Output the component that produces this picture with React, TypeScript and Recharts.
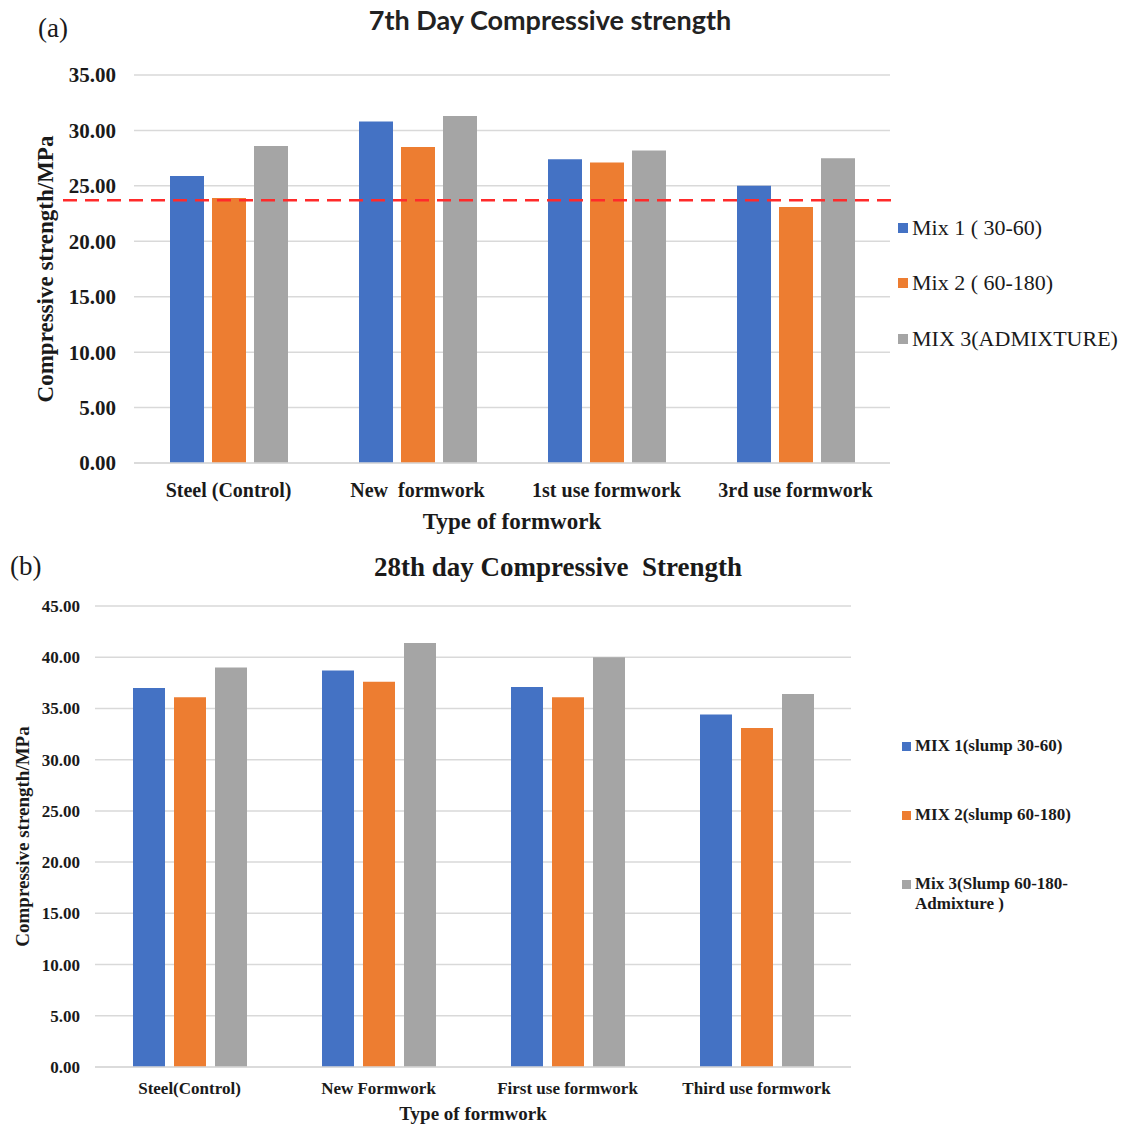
import {
  Bar,
  BarChart,
  CartesianGrid,
  Legend,
  ReferenceLine,
  XAxis,
  YAxis,
} from "recharts";

// (a) 7th day
const formworks7 = ["Steel (Control)", "New\u00a0 formwork", "1st use formwork", "3rd use formwork"];
const mix1Day7 = [25.9, 30.8, 27.4, 25.0];
const mix2Day7 = [23.9, 28.5, 27.1, 23.1];
const mix3Day7 = [28.6, 31.3, 28.2, 27.5];
const ticks7 = [0, 5, 10, 15, 20, 25, 30, 35];
const targetStrength = 23.7;
const names7 = ["Mix 1 ( 30-60)", "Mix 2 ( 60-180)", "MIX 3(ADMIXTURE)"];

// (b) 28th day
const formworks28 = ["Steel(Control)", "New Formwork", "First use formwork", "Third use formwork"];
const mix1Day28 = [37.0, 38.7, 37.1, 34.4];
const mix2Day28 = [36.1, 37.6, 36.1, 33.1];
const mix3Day28 = [39.0, 41.4, 40.0, 36.4];
const ticks28 = [0, 5, 10, 15, 20, 25, 30, 35, 40, 45];
const names28 = ["MIX 1(slump 30-60)", "MIX 2(slump 60-180)", "Mix 3(Slump 60-180-\nAdmixture )"];

const seriesKeys = ["mix1", "mix2", "mix3"];
const colors = ["#4472C4", "#ED7D31", "#A5A5A5"];
const serif = '"Liberation Serif", "Times New Roman", serif';
const ink = "#1a1a1a";

const data7 = formworks7.map((name, i) => ({
  name,
  mix1: mix1Day7[i],
  mix2: mix2Day7[i],
  mix3: mix3Day7[i],
}));

const data28 = formworks28.map((name, i) => ({
  name,
  mix1: mix1Day28[i],
  mix2: mix2Day28[i],
  mix3: mix3Day28[i],
}));

function makeLegend(opts: {
  itemHeight: number;
  lineHeight: number;
  fontSize: number;
  bold: boolean;
  box: number;
}) {
  return (props: any) => {
    // keep series order (legend sorts by name otherwise)
    const payload = [...(props.payload || [])].sort(
      (a: any, b: any) => seriesKeys.indexOf(a.dataKey) - seriesKeys.indexOf(b.dataKey)
    );
    return (
      <div style={{ fontFamily: serif, color: ink }}>
        {payload.map((entry: any) => (
          <div
            key={entry.value}
            style={{
              height: opts.itemHeight,
              display: "flex",
              alignItems: "flex-start",
              paddingTop: (opts.itemHeight - opts.lineHeight) / 2,
              boxSizing: "border-box",
            }}
          >
            <span
              style={{
                width: opts.box,
                height: opts.box,
                background: entry.color,
                marginTop: (opts.lineHeight - opts.box) / 2,
                marginRight: 4,
                flex: "none",
              }}
            />
            <span
              style={{
                fontSize: opts.fontSize,
                lineHeight: `${opts.lineHeight}px`,
                fontWeight: opts.bold ? 700 : 400,
                whiteSpace: "pre",
              }}
            >
              {entry.value}
            </span>
          </div>
        ))}
      </div>
    );
  };
}

const legend7 = makeLegend({ itemHeight: 55.5, lineHeight: 24, fontSize: 22, bold: false, box: 10 });
const legend28 = makeLegend({ itemHeight: 69, lineHeight: 20, fontSize: 17, bold: true, box: 9 });

export default function App() {
  return (
    <div
      style={{
        position: "absolute",
        left: 0,
        top: 0,
        width: 1121,
        height: 1125,
        background: "#fff",
        overflow: "hidden",
      }}
    >
      <div style={{ position: "absolute", left: 38, top: 13, fontFamily: serif, fontSize: 27, lineHeight: "30px", color: ink }}>
        (a)
      </div>
      <div
        style={{
          position: "absolute",
          left: 0,
          width: 1100,
          top: 4,
          textAlign: "center",
          fontFamily: "Lato, sans-serif",
          fontWeight: 700,
          fontSize: 27,
          lineHeight: "32px",
          color: "#222",
          zIndex: 2,
        }}
      >
        7th Day Compressive strength
      </div>

      <div style={{ position: "absolute", left: 0, top: 0 }}>
        <BarChart
          width={1121}
          height={540}
          data={data7}
          margin={{ top: 75, right: 231, bottom: 47, left: 64 }}
          barSize={34}
          barGap={8}
        >
          <CartesianGrid vertical={false} stroke="#d9d9d9" strokeWidth={1.5} />
          <XAxis
            dataKey="name"
            tickLine={false}
            axisLine={{ stroke: "#d9d9d9", strokeWidth: 1.5 }}
            tickMargin={14}
            interval={0}
            tick={{ fontFamily: serif, fontSize: 20, fontWeight: 700, fill: ink }}
            label={{
              content: (p: any) => {
                const vb = p.viewBox;
                return (
                  <text
                    x={vb.x + vb.width / 2}
                    y={529}
                    textAnchor="middle"
                    fontFamily={serif}
                    fontSize={23}
                    fontWeight={700}
                    fill={ink}
                  >
                    Type of formwork
                  </text>
                );
              },
            }}
          />
          <YAxis
            width={70}
            domain={[0, 35]}
            ticks={ticks7}
            tickFormatter={(v) => v.toFixed(2)}
            tickLine={false}
            axisLine={false}
            tickMargin={12}
            tick={{ fontFamily: serif, fontSize: 21, fontWeight: 700, fill: ink }}
            label={{
              content: (p: any) => {
                const vb = p.viewBox;
                const cy = vb.y + vb.height / 2;
                return (
                  <text
                    x={45}
                    y={cy}
                    transform={`rotate(-90 45 ${cy})`}
                    textAnchor="middle"
                    dominantBaseline="central"
                    fontFamily={serif}
                    fontSize={23}
                    fontWeight={700}
                    fill={ink}
                  >
                    Compressive strength/MPa
                  </text>
                );
              },
            }}
          />
          <Legend
            layout="vertical"
            align="center"
            verticalAlign="middle"
            content={legend7}
            wrapperStyle={{ left: 898, top: 200, width: 223, height: 170 }}
          />
          <Bar dataKey="mix1" name={names7[0]} fill={colors[0]} isAnimationActive={false} />
          <Bar dataKey="mix2" name={names7[1]} fill={colors[1]} isAnimationActive={false} />
          <Bar dataKey="mix3" name={names7[2]} fill={colors[2]} isAnimationActive={false} />
          <ReferenceLine
            y={targetStrength}
            shape={(p: any) => (
              <line
                x1={p.x1 - 71}
                x2={p.x2 + 3}
                y1={p.y1}
                y2={p.y2}
                stroke="#ff2a2a"
                strokeWidth={2.5}
                strokeDasharray="14 8"
              />
            )}
          />
        </BarChart>
      </div>

      <div style={{ position: "absolute", left: 10, top: 551, fontFamily: serif, fontSize: 27, lineHeight: "30px", color: ink }}>
        (b)
      </div>
      <div
        style={{
          position: "absolute",
          left: 0,
          width: 1116,
          top: 552,
          textAlign: "center",
          fontFamily: serif,
          fontWeight: 700,
          fontSize: 27,
          lineHeight: "30px",
          color: ink,
          whiteSpace: "pre",
          zIndex: 2,
        }}
      >
        {"28th day Compressive  Strength"}
      </div>

      <div style={{ position: "absolute", left: 0, top: 540 }}>
        <BarChart
          width={1121}
          height={585}
          data={data28}
          margin={{ top: 66, right: 270, bottom: 28, left: 35 }}
          barSize={32}
          barGap={9}
        >
          <CartesianGrid vertical={false} stroke="#d9d9d9" strokeWidth={1.5} />
          <XAxis
            dataKey="name"
            tickLine={false}
            axisLine={{ stroke: "#d9d9d9", strokeWidth: 1.5 }}
            tickMargin={9}
            interval={0}
            tick={{ fontFamily: serif, fontSize: 17, fontWeight: 700, fill: ink }}
            label={{
              content: (p: any) => {
                const vb = p.viewBox;
                return (
                  <text
                    x={vb.x + vb.width / 2}
                    y={580}
                    textAnchor="middle"
                    fontFamily={serif}
                    fontSize={19}
                    fontWeight={700}
                    fill={ink}
                  >
                    Type of formwork
                  </text>
                );
              },
            }}
          />
          <YAxis
            width={60}
            domain={[0, 45]}
            ticks={ticks28}
            tickFormatter={(v) => v.toFixed(2)}
            tickLine={false}
            axisLine={false}
            tickMargin={9}
            tick={{ fontFamily: serif, fontSize: 17, fontWeight: 700, fill: ink }}
            label={{
              content: (p: any) => {
                const vb = p.viewBox;
                const cy = vb.y + vb.height / 2;
                return (
                  <text
                    x={22}
                    y={cy}
                    transform={`rotate(-90 22 ${cy})`}
                    textAnchor="middle"
                    dominantBaseline="central"
                    fontFamily={serif}
                    fontSize={19}
                    fontWeight={700}
                    fill={ink}
                  >
                    Compressive strength/MPa
                  </text>
                );
              },
            }}
          />
          <Legend
            layout="vertical"
            align="center"
            verticalAlign="middle"
            content={legend28}
            wrapperStyle={{ left: 902, top: 171.5, width: 219, height: 210 }}
          />
          <Bar dataKey="mix1" name={names28[0]} fill={colors[0]} isAnimationActive={false} />
          <Bar dataKey="mix2" name={names28[1]} fill={colors[1]} isAnimationActive={false} />
          <Bar dataKey="mix3" name={names28[2]} fill={colors[2]} isAnimationActive={false} />
        </BarChart>
      </div>
    </div>
  );
}
